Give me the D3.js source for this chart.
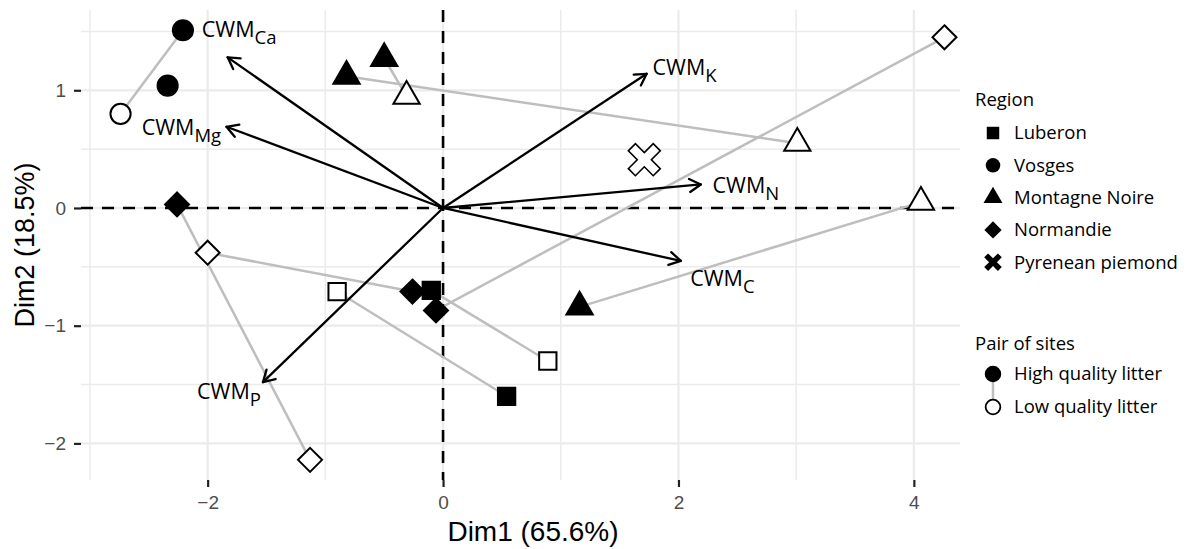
<!DOCTYPE html>
<html><head><meta charset="utf-8">
<script src="https://cdn.jsdelivr.net/npm/d3@7"></script>
<style>body{margin:0;background:#fff;} svg{display:block;}</style>
</head><body>
<svg id="c" width="1196" height="549"></svg>
<script>
// ---- data ----
const regions = ["Luberon","Vosges","Montagne Noire","Normandie","Pyrenean piemond"];
const siteRegion  = ["Luberon","Luberon","Luberon","Luberon","Vosges","Vosges","Vosges","Montagne Noire","Montagne Noire","Montagne Noire","Montagne Noire","Montagne Noire","Montagne Noire","Normandie","Normandie","Normandie","Normandie","Normandie","Normandie","Pyrenean piemond"];
const siteQuality = ["High","Low","High","Low","High","Low","High","High","Low","High","Low","High","Low","High","Low","High","Low","High","Low","Low"];
const sitePair    = [0,0,1,1,2,2,9,3,3,4,4,5,5,6,6,7,7,8,8,10];
const siteDim1    = [-0.10,0.89,0.54,-0.90,-2.21,-2.74,-2.34,-0.82,3.01,-0.50,-0.31,1.16,4.06,-2.26,-1.13,-0.26,-2.00,-0.06,4.26,1.71];
const siteDim2    = [-0.70,-1.30,-1.60,-0.71,1.51,0.80,1.04,1.12,0.55,1.27,0.95,-0.84,0.05,0.03,-2.14,-0.71,-0.38,-0.87,1.45,0.41];

const traitNames = ["Ca","Mg","K","N","C","P"];
const traitDim1  = [-1.83,-1.84,1.73,2.19,2.02,-1.53];
const traitDim2  = [1.28,0.69,1.14,0.20,-0.45,-1.48];
const labelDim1  = [-2.05,-2.56,1.78,2.29,2.10,-2.09];
const labelDim2  = [1.45,0.62,1.13,0.13,-0.66,-1.62];

const xTicks = [-2,0,2,4], xMinor = [-3,-1,1,3];
const yTicks = [-2,-1,0,1], yMinor = [-1.5,-0.5,0.5,1.5];
const xTitle = "Dim1 (65.6%)", yTitle = "Dim2 (18.5%)";
const qualityLabels = ["High quality litter","Low quality litter"];

// ---- scales ----
const P = {l:81, r:960, t:10, b:480};
const x = d3.scaleLinear().domain([-3.076, 4.392]).range([P.l, P.r]);
const y = d3.scaleLinear().domain([-2.311, 1.682]).range([P.b, P.t]);
const svg = d3.select("#c");

// grid
const g = svg.append("g");
g.selectAll(".vmin").data(xMinor).join("line").attr("x1",d=>x(d)).attr("x2",d=>x(d)).attr("y1",P.t).attr("y2",P.b).attr("stroke","#ebebeb").attr("stroke-width",1.5);
g.selectAll(".hmin").data(yMinor).join("line").attr("y1",d=>y(d)).attr("y2",d=>y(d)).attr("x1",P.l).attr("x2",P.r).attr("stroke","#ebebeb").attr("stroke-width",1.5);
g.selectAll(".vmaj").data(xTicks).join("line").attr("x1",d=>x(d)).attr("x2",d=>x(d)).attr("y1",P.t).attr("y2",P.b).attr("stroke","#ebebeb").attr("stroke-width",2.2);
g.selectAll(".hmaj").data(yTicks).join("line").attr("y1",d=>y(d)).attr("y2",d=>y(d)).attr("x1",P.l).attr("x2",P.r).attr("stroke","#ebebeb").attr("stroke-width",2.2);

// axes
const xa = svg.append("g").attr("transform",`translate(0,${P.b})`).call(d3.axisBottom(x).tickValues(xTicks).tickSize(7).tickPadding(9).tickFormat(d3.format("d")));
const ya = svg.append("g").attr("transform",`translate(${P.l},0)`).call(d3.axisLeft(y).tickValues(yTicks).tickSize(7).tickPadding(8).tickFormat(d3.format("d")));
[xa,ya].forEach(a=>{
  a.select(".domain").remove();
  a.selectAll(".tick line").attr("stroke","#222").attr("stroke-width",2.2);
  a.selectAll(".tick text").attr("fill","#4d4d4d").attr("font-family","'Liberation Sans', Arial, sans-serif").attr("font-size",19);
});
svg.append("text").attr("x",533).attr("y",541).attr("text-anchor","middle").attr("font-family","'Liberation Sans', Arial, sans-serif").attr("font-size",28).text(xTitle);
svg.append("text").attr("transform",`translate(34,${(P.t+P.b)/2}) rotate(-90)`).attr("text-anchor","middle").attr("font-family","'Liberation Sans', Arial, sans-serif").attr("font-size",27).text(yTitle);

// dashed zero lines
svg.append("line").attr("x1",P.l).attr("x2",P.r).attr("y1",y(0)).attr("y2",y(0)).attr("stroke","#000").attr("stroke-width",2.6).attr("stroke-dasharray","12,9");
svg.append("line").attr("x1",x(0)).attr("x2",x(0)).attr("y1",P.t).attr("y2",P.b).attr("stroke","#000").attr("stroke-width",2.6).attr("stroke-dasharray","12,9");

// pair lines
const sites = siteDim1.map((d,i)=>({region:siteRegion[i],q:siteQuality[i],pair:sitePair[i],x:d,y:siteDim2[i]}));
const pairs = d3.groups(sites,d=>d.pair).filter(p=>p[1].length===2);
svg.append("g").selectAll("line").data(pairs).join("line")
  .attr("x1",p=>x(p[1][0].x)).attr("y1",p=>y(p[1][0].y)).attr("x2",p=>x(p[1][1].x)).attr("y2",p=>y(p[1][1].y))
  .attr("stroke","#bebebe").attr("stroke-width",2.5);

// symbols
function diamondPath(r){return `M0,${-r}L${r},0L0,${r}L${-r},0Z`;}
function xPath(L,w){
  const pts=[[w,w],[w,L],[-w,L],[-w,w],[-L,w],[-L,-w],[-w,-w],[-w,-L],[w,-L],[w,-w],[L,-w],[L,w]];
  const c=Math.SQRT1_2;
  return "M"+pts.map(p=>[(p[0]-p[1])*c,(p[0]+p[1])*c].map(v=>v.toFixed(2)).join(",")).join("L")+"Z";
}
function symPath(region, scale){
  if(region==="Luberon") return d3.symbol(d3.symbolSquare, 300*scale*scale)();
  if(region==="Vosges") return d3.symbol(d3.symbolCircle, 320*scale*scale)();
  if(region==="Montagne Noire") return d3.symbol(d3.symbolTriangle, 300*scale*scale)();
  if(region==="Normandie") return diamondPath(12*scale);
  return xPath(17.6*scale, 5*scale);
}
svg.append("g").selectAll("path").data(sites).join("path")
  .attr("transform",d=>`translate(${x(d.x)},${y(d.y)})`)
  .attr("d",d=>symPath(d.region,1))
  .attr("fill",d=>d.q==="High"?"#000":"#fff")
  .attr("stroke","#000").attr("stroke-width",d=>d.region==="Pyrenean piemond"?1.6:2);

// arrows
const traits = traitNames.map((n,i)=>({n, x:traitDim1[i], y:traitDim2[i], lx:labelDim1[i], ly:labelDim2[i]}));
const ag = svg.append("g").attr("stroke","#000").attr("stroke-width",2.3).attr("fill","none").attr("stroke-linecap","round").attr("stroke-linejoin","round");
traits.forEach(t=>{
  const x0=x(0), y0=y(0), x1=x(t.x), y1=y(t.y);
  ag.append("line").attr("x1",x0).attr("y1",y0).attr("x2",x1).attr("y2",y1);
  const ang=Math.atan2(y1-y0,x1-x0), L=13, a=Math.PI/6;
  const p1=[x1-L*Math.cos(ang-a), y1-L*Math.sin(ang-a)];
  const p2=[x1-L*Math.cos(ang+a), y1-L*Math.sin(ang+a)];
  ag.append("path").attr("d",`M${p1}L${x1},${y1}L${p2}`);
});
const lt = svg.append("g").attr("font-family","'Open Sans', sans-serif").attr("fill","#000");
traits.forEach(t=>{
  const te = lt.append("text").attr("x",x(t.lx)).attr("y",y(t.ly)).attr("font-size",21.5);
  te.append("tspan").text("CWM");
  te.append("tspan").attr("font-size",18.5).attr("dy",7).text(t.n);
});

// legend
const lg = svg.append("g").attr("font-family","'Open Sans', sans-serif").attr("font-size",18.5).attr("fill","#000");
lg.append("text").attr("x",975).attr("y",106).text("Region");
regions.forEach((r,i)=>{
  const cy = 133 + i*32.3;
  lg.append("path").attr("transform",`translate(993,${cy})`).attr("d", symPath(r, r==="Pyrenean piemond"?0.55:0.72)).attr("fill","#000").attr("stroke","none");
  lg.append("text").attr("x",1014).attr("y",cy).attr("dy","0.35em").text(r);
});
lg.append("text").attr("x",975).attr("y",350).text("Pair of sites");
lg.append("line").attr("x1",993).attr("x2",993).attr("y1",374).attr("y2",407).attr("stroke","#bebebe").attr("stroke-width",2.5);
qualityLabels.forEach((q,i)=>{
  const cy = 374 + i*33;
  lg.append("path").attr("transform",`translate(993,${cy})`).attr("d",d3.symbol(d3.symbolCircle,170)()).attr("fill",i===0?"#000":"#fff").attr("stroke","#000").attr("stroke-width",1.8);
  lg.append("text").attr("x",1014).attr("y",cy).attr("dy","0.35em").text(q);
});
</script>
</body></html>
